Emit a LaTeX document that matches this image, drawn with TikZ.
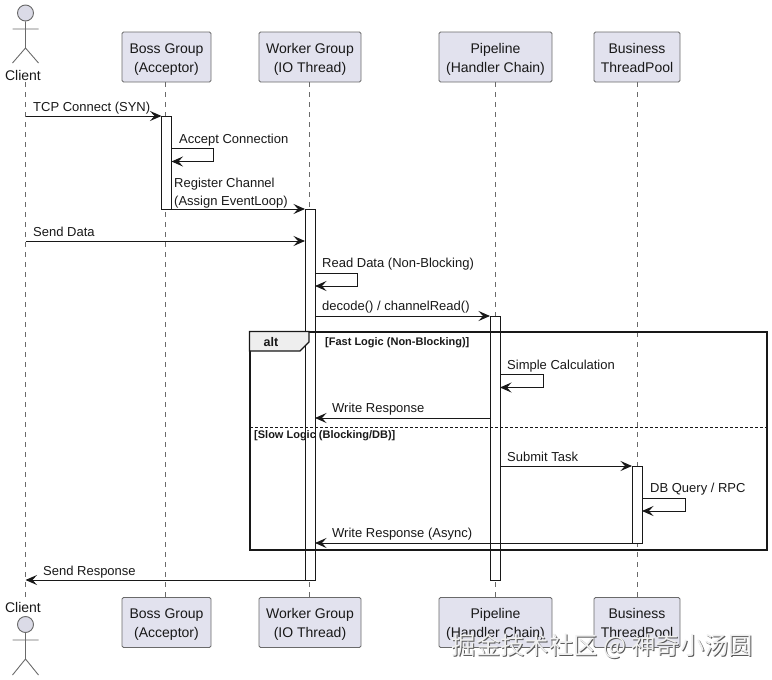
\documentclass[tikz,border=0pt]{standalone}
\usepackage{fontspec}
\setmainfont{Liberation Sans}
\newfontfamily\cjk{Noto Sans CJK SC}
\usetikzlibrary{arrows.meta,calc,positioning}
\definecolor{ink}{HTML}{181818}
\definecolor{muted}{HTML}{6A6A6A}
\definecolor{boxfill}{HTML}{E2E2EE}
\definecolor{tabfill}{HTML}{EEEEEE}
\newcommand{\boxlines}[2]{\rule{0pt}{16pt}#1\\#2\rule[-5pt]{0pt}{5pt}}
\tikzset{
  partbox/.style={draw=muted,fill=boxfill,rounded corners=1.5pt,line width=0.8pt,minimum height=50pt,inner sep=0pt,align=center,text=ink,font=\fontsize{14}{19}\selectfont},
  actorhead/.style={circle,draw=muted,fill=boxfill!97!black,line width=0.9pt,minimum size=16pt,inner sep=0pt},
  actorline/.style={muted,line width=0.9pt},
  actorname/.style={text=ink,inner sep=0pt,font=\fontsize{14}{17}\selectfont},
  lifeline/.style={muted,line width=0.8pt,dash pattern=on 5pt off 5pt},
  activebar/.style={draw=ink,fill=white,line width=0.85pt,minimum width=10pt,inner sep=0pt,outer sep=0pt},
  msg/.style={ink,line width=1pt,-{Stealth[length=11.5pt,width=10pt,inset=4.5pt]}},
  msgtext/.style={anchor=west,inner sep=0pt,align=left,text=ink,font=\fontsize{13}{18}\selectfont},
  guardtext/.style={anchor=west,inner sep=0pt,text=ink,font=\bfseries\fontsize{11}{13}\selectfont},
}
\begin{document}
\begin{tikzpicture}[x=1pt,y=-1pt]
  \useasboundingbox (0,0) rectangle (772,680);
  % participants, top and bottom row
  \foreach \id/\y in {top/57,low/622.5}{
    \node[partbox,minimum width=89pt] (boss\id) at (166.5,\y) {\boxlines{Boss Group}{(Acceptor)}};
    \node[partbox,minimum width=102pt] (worker\id) at (310,\y) {\boxlines{Worker Group}{(IO Thread)}};
    \node[partbox,minimum width=113pt] (pipe\id) at (495.5,\y) {\boxlines{Pipeline}{(Handler Chain)}};
    \node[partbox,minimum width=86pt] (biz\id) at (637,\y) {\boxlines{Business}{ThreadPool}};
  }
  % actor
  \node[actorhead] (headtop) at (25.5,13) {};
  \node[actorname] (clienttop) at (23,75) {Client};
  \coordinate (hiptop) at (25.5,48);
  \draw[actorline] (headtop.south) -- (hiptop) (12.5,29) -- (38.5,29) (12.5,63) -- (hiptop) -- (38.5,63);
  \node[actorname] (clientlow) at (23,607) {Client};
  \node[actorhead] (headlow) at (25.5,624.5) {};
  \coordinate (hiplow) at (25.5,659);
  \draw[actorline] (headlow.south) -- (hiplow) (12.5,640) -- (38.5,640) (12.5,675) -- (hiplow) -- (38.5,675);
  % lifelines
  \foreach \id/\x in {boss/165.5,worker/309,pipe/495,biz/637.5}{
    \coordinate (\id x) at (\x,0);
    \draw[lifeline] (\id x |- \id top.south) -- (\id x |- \id low.north);
  }
  \draw[lifeline] ($(headtop |- clienttop.south)+(0,2)$) -- ($(headlow |- clientlow.north)+(0,-3)$);
  % activation bars
  \node[activebar,minimum height=93pt] (bossbar) at (166.5,162.5) {};
  \node[activebar,minimum height=371pt] (workerbar) at (310,394.5) {};
  \node[activebar,minimum height=264pt] (pipebar) at (495,448) {};
  \node[activebar,minimum height=77pt] (bizbar) at (637,504.5) {};
  % alt frame
  \draw[ink,line width=2pt] (249.5,331.5) rectangle (767,550);
  \draw[ink,line width=1.2pt,fill=tabfill] (249.5,331.5) -- (309,331.5) -- (309,342) -- (300,351) -- (249.5,351) -- cycle;
  \node[inner sep=0pt,text=ink,font=\bfseries\fontsize{12.5}{15}\selectfont] (altword) at (271,342) {alt};
  \coordinate (splitl) at (250,427.5);
  \coordinate (splitr) at (767,427.5);
  \draw[ink,line width=0.8pt,dash pattern=on 2.5pt off 2.5pt] (splitl) -- (splitr);
  \node[guardtext] (fastguard) at (325,342.5) {[Fast Logic (Non-Blocking)]};
  \node[guardtext] (slowguard) at (254,435.5) {[Slow Logic (Blocking/DB)]};
  % message rows
  \foreach \id/\y in {tcp/116,acca/148.5,accb/161.5,reg/209,send/241,reada/273,readb/286,dec/316,
    calca/374.5,calcb/387.5,wra/418,sub/466,dba/498,dbb/511,wrb/543,resp/580}{
    \coordinate (\id) at (0,\y);
  }
  \draw[msg] (headtop |- tcp) -- (bossbar.west |- tcp);
  \draw[msg] (bossbar.east |- acca) -- ++(42,0) |- (bossbar.east |- accb);
  \draw[msg] (bossbar.east |- reg) -- (workerbar.west |- reg);
  \draw[msg] (headtop |- send) -- (workerbar.west |- send);
  \draw[msg] (workerbar.east |- reada) -- ++(42,0) |- (workerbar.east |- readb);
  \draw[msg] (workerbar.east |- dec) -- (pipebar.west |- dec);
  \draw[msg] (pipebar.east |- calca) -- ++(43,0) |- (pipebar.east |- calcb);
  \draw[msg] (pipebar.west |- wra) -- (workerbar.east |- wra);
  \draw[msg] (pipebar.east |- sub) -- (bizbar.west |- sub);
  \draw[msg] (bizbar.east |- dba) -- ++(43,0) |- (bizbar.east |- dbb);
  \draw[msg] (bizbar.west |- wrb) -- (workerbar.east |- wrb);
  \draw[msg] (workerbar.west |- resp) -- (headtop |- resp);
  % message labels
  \foreach \id/\x/\y/\txt in {a/33/108/TCP Connect (SYN),b/179/140/Accept Connection,
    c/174/193/{Register Channel\\(Assign EventLoop)},d/33/232/Send Data,e/322/264/Read Data (Non-Blocking),
    f/322/307/{decode() / channelRead()},g/507/366/Simple Calculation,h/332/409.5/Write Response,
    i/507/457/Submit Task,j/650/489/{DB Query / RPC},k/332/534/Write Response (Async),l/43/572/Send Response}{
    \node[msgtext] (label\id) at (\x,\y) {\txt};
  }
  % watermark
  \node[inner sep=0pt,text=gray!70!black,font=\cjk\fontsize{24.3}{26}\selectfont] (markback) at (603.5,647) {掘金技术社区 @ 神奇小汤圆};
  \node[inner sep=0pt,text=white!88!gray,font=\cjk\fontsize{24.3}{26}\selectfont] (markfront) at (602.5,646) {掘金技术社区 @ 神奇小汤圆};
\end{tikzpicture}
\end{document}
